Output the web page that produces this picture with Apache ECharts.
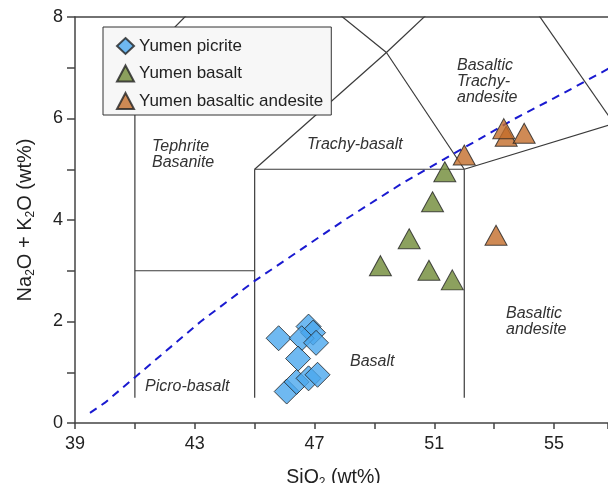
<!DOCTYPE html>
<html><head><meta charset="utf-8">
<script src="https://cdn.jsdelivr.net/npm/echarts@6/dist/echarts.min.js"></script>
<style>html,body{margin:0;padding:0;background:#fff}#c{width:608px;height:483px}</style>
</head><body><div id="c"></div>
<script>
// SiO2, Na2O+K2O
const picrite = [[45.8,1.67],[46.8,1.9],[46.95,1.78],[46.57,1.67],[47.05,1.58],[46.45,1.27],[46.07,0.62],[46.4,0.81],[46.8,0.88],[47.1,0.95]];
const basalt = [[49.2,3.1],[50.16,3.63],[50.82,3.01],[50.94,4.36],[51.35,4.95],[51.6,2.82]];
const basalticAndesite = [[52.0,5.28],[53.4,5.65],[53.32,5.8],[54.0,5.71],[53.06,3.70]];
// TAS field boundaries (Le Bas et al., 1986)
const tasLines = [
  [[41,0.5],[41,7]],
  [[41,7],[45,9.4]],
  [[41,3],[45,3]],
  [[45,0.5],[45,5]],
  [[45,5],[52,5]],
  [[52,0.5],[52,5]],
  [[45,5],[49.4,7.3]],
  [[49.4,7.3],[52,5]],
  [[49.4,7.3],[45,9.4]],
  [[49.4,7.3],[53,9.3]],
  [[52,5],[57,5.9]],
  [[53,9.3],[57,5.9]],
  [[57,0.5],[57,5.9]]
];
// Alkaline / subalkaline divide (Irvine & Baragar, 1971)
const divide = [[39.5,0.2],[40,0.4],[43.2,2],[45,2.8],[48,4],[50,4.75],[53.7,6],[55,6.4],[60,8]];
const xTickLabels = [39,43,47,51,55];
const yTickLabels = [0,2,4,6,8];

const font = '"Liberation Sans", Arial, sans-serif';
const chart = echarts.init(document.getElementById('c'), null, {renderer:'canvas'});
const series = [];
tasLines.forEach(seg => series.push({
  type:'line', data:seg, symbol:'none', silent:true, clip:true, z:1,
  lineStyle:{color:'#3a3a3a', width:1.2}
}));
series.push({type:'line', data:divide, symbol:'none', silent:true, clip:true, z:2,
  lineStyle:{color:'#1a1ad0', width:2, type:[8,6]}});
series.push({name:'Yumen picrite', type:'scatter', data:picrite, symbol:'diamond', symbolSize:25, z:5,
  itemStyle:{color:'#4ba7ee', borderColor:'#222', borderWidth:1}});
series.push({name:'Yumen basalt', type:'scatter', data:basalt, symbol:'triangle', symbolSize:[22,20], z:5,
  itemStyle:{color:'#6f8a36', borderColor:'#222', borderWidth:1}});
series.push({name:'Yumen basaltic andesite', type:'scatter', data:basalticAndesite, symbol:'triangle', symbolSize:[22,20], z:5,
  itemStyle:{color:'#c36d2b', borderColor:'#222', borderWidth:1}});

const lbl = (text, x, y) => ({type:'text', x:x, y:y, z:3, style:{text:text, font:'italic 16px ' + font, fill:'#333', textVerticalAlign:'middle', lineHeight:16}});

chart.setOption({
  animation:false,
  grid:{left:75, right:0, top:17, bottom:60, containLabel:false, outerBoundsMode:'none'},
  legend:{
    data:['Yumen picrite','Yumen basalt','Yumen basaltic andesite'],
    orient:'vertical', left:103, top:27, padding:[10,8,5,13],
    itemWidth:17, itemHeight:16, itemGap:9.5,
    backgroundColor:'#f7f7f7', borderColor:'#333', borderWidth:1, borderRadius:0,
    textStyle:{fontFamily:font, fontSize:17, color:'#222', lineHeight:17}
  },
  xAxis:[{
    type:'value', min:39, max:56.8, interval:2, position:'bottom',
    name:'{a|SiO}{s|2}{a| (wt%)}', nameLocation:'middle', nameGap:44,
    nameTextStyle:{padding:[0,16,0,0], rich:{a:{fontFamily:font, fontSize:19.5, color:'#222'}, s:{fontFamily:font, fontSize:12, color:'#222', padding:[10,0,0,0]}}},
    axisLine:{onZero:false, lineStyle:{color:'#444', width:1.5}},
    axisTick:{length:6, lineStyle:{color:'#444', width:1.5}},
    axisLabel:{margin:12, fontFamily:font, fontSize:18, color:'#222',
      formatter:v => xTickLabels.includes(v) ? String(v) : ''},
    splitLine:{show:false}
  },{
    type:'value', min:39, max:56.8, position:'top',
    axisLine:{show:true, onZero:false, lineStyle:{color:'#444', width:1.5}},
    axisTick:{show:false}, axisLabel:{show:false}, splitLine:{show:false}
  }],
  yAxis:{
    type:'value', min:0, max:8, interval:1,
    name:'{a|Na}{s|2}{a|O + K}{s|2}{a|O (wt%)}', nameLocation:'middle', nameGap:38, nameRotate:90,
    nameTextStyle:{rich:{a:{fontFamily:font, fontSize:20, color:'#222'}, s:{fontFamily:font, fontSize:12, color:'#222', padding:[11,0,0,0]}}},
    axisLine:{show:true, lineStyle:{color:'#444', width:1.5}},
    axisTick:{length:8, lineStyle:{color:'#444', width:1.5}},
    axisLabel:{margin:12, fontFamily:font, fontSize:18, color:'#222',
      formatter:v => yTickLabels.includes(v) ? String(v) : ''},
    splitLine:{show:false}
  },
  graphic:[
    lbl('Tephrite\nBasanite', 152, 155),
    lbl('Trachy-basalt', 307, 145),
    lbl('Basaltic\nTrachy-\nandesite', 457, 82),
    lbl('Basaltic\nandesite', 506, 322),
    lbl('Basalt', 350, 362),
    lbl('Picro-basalt', 145, 387)
  ],
  series:series
});
</script></body></html>
